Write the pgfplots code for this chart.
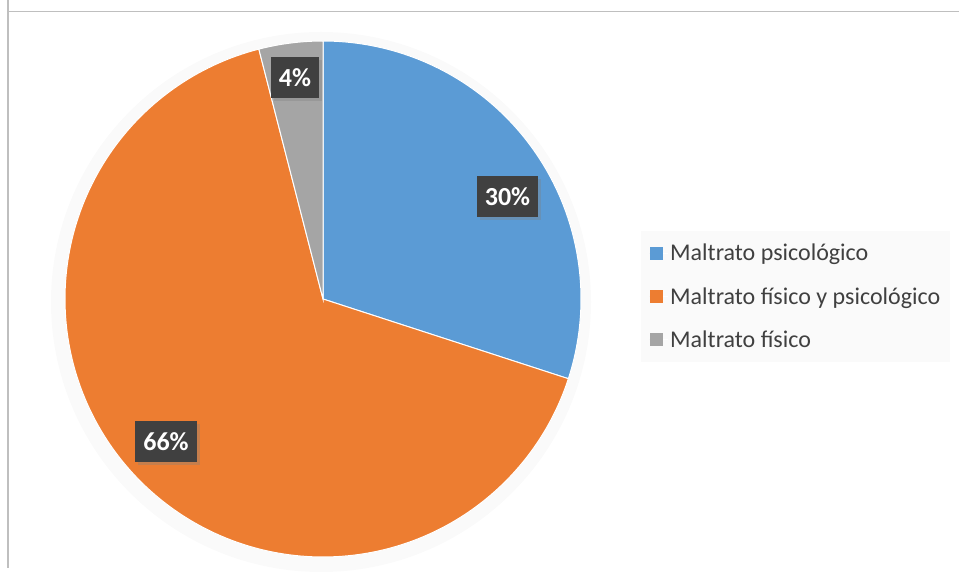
\documentclass[border=0pt]{standalone}
\usepackage{pgfplots}
\pgfplotsset{compat=1.18}
\usepackage{fontspec}
\setmainfont{Carlito}
\usetikzlibrary{shadows}
\definecolor{cBlue}{HTML}{5B9BD5}
\definecolor{cOrange}{HTML}{ED7D31}
\definecolor{cGray}{HTML}{A5A5A5}
\definecolor{cLab}{HTML}{404040}
\definecolor{cTxt}{HTML}{404040}
% values (percent)
\def\vA{30}
\def\vB{66}
\def\vC{4}
\pgfmathsetmacro\aA{90}
\pgfmathsetmacro\aB{\aA-\vA*3.6}
\pgfmathsetmacro\aC{\aB-\vB*3.6}
\pgfmathsetmacro\aD{\aC-\vC*3.6}
\begin{document}
\begin{tikzpicture}
\begin{axis}[
  scale only axis, width=959pt, height=580pt,
  xmin=0, xmax=959, ymin=0, ymax=580,
  hide axis, clip=false,
  legend style={at={(axis cs:641,349)}, anchor=north west,
    draw=none, fill=black!2, font=\fontsize{24}{28}\selectfont\color{cTxt},
    inner xsep=8pt, inner ysep=11pt, row sep=21pt, cells={anchor=west}},
  legend image code/.code={\path (0pt,0pt) -- (18pt,0pt);
    \fill[#1, draw=none] (0pt,-6.5pt) rectangle (13pt,6.5pt);},
]
\draw[black!25, line width=1.2pt] (axis cs:8,580) -- (axis cs:8,11.5) ;
\draw[black!25, line width=1.2pt] (axis cs:8,568.5) -- (axis cs:959,568.5);
% soft shadow
\fill[black!5] (axis cs:322,279) circle[radius=263pt];
\fill[black!2] (axis cs:321,278) circle[radius=270pt];
\addplot[fill=cBlue, draw=white, line width=1pt, domain=\aB:\aA, samples=90, variable=\t]
  ({323+258*cos(\t)}, {281+258*sin(\t)}) -- (axis cs:323,281) -- cycle;
\addlegendentry{Maltrato psicológico}
\addplot[fill=cOrange, draw=white, line width=1pt, domain=\aC:\aB, samples=180, variable=\t]
  ({323+258*cos(\t)}, {281+258*sin(\t)}) -- (axis cs:323,281) -- cycle;
\addlegendentry{Maltrato físico y psicológico}
\addplot[fill=cGray, draw=white, line width=1pt, domain=\aD:\aC, samples=20, variable=\t]
  ({323+258*cos(\t)}, {281+258*sin(\t)}) -- (axis cs:323,281) -- cycle;
\addlegendentry{Maltrato físico}
\tikzset{lab/.style={fill=cLab, text=white, font=\fontsize{26}{28}\selectfont\bfseries,
  minimum height=41pt, inner xsep=8pt,
  drop shadow={opacity=0.35, shadow xshift=3pt, shadow yshift=-3pt}}}
\node[lab] at (axis cs:507.5,383.5) {\vA\%};
\node[lab] at (axis cs:166,138.5) {\vB\%};
\node[lab] at (axis cs:295,502.5) {\vC\%};
\end{axis}
\pgfresetboundingbox
\path (current axis.south west) rectangle (current axis.north east);
\end{tikzpicture}
\end{document}
